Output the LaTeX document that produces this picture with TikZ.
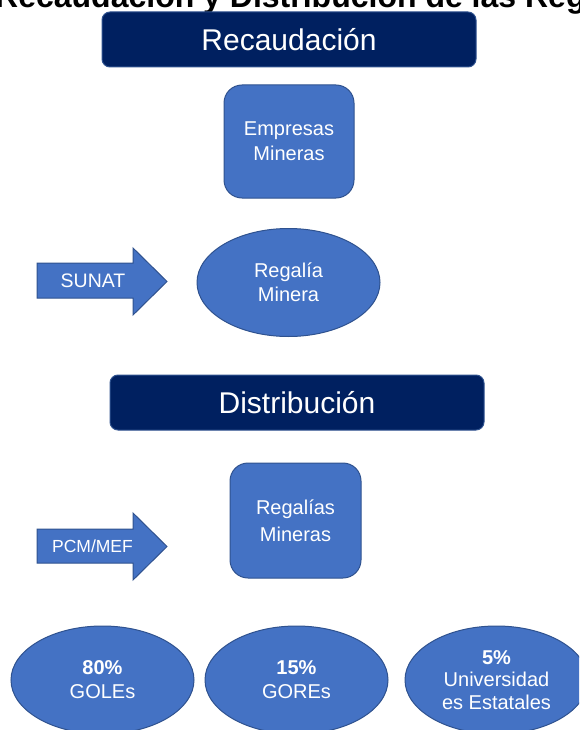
\documentclass[tikz,border=0pt]{standalone}
\usepackage{fontspec}
\setmainfont{Liberation Sans}
\usetikzlibrary{shapes.geometric}
\definecolor{accblue}{HTML}{4472C4}
\definecolor{accline}{HTML}{2F528F}
\definecolor{navy}{HTML}{002060}
\tikzset{
  headbox/.style={draw=accline, line width=1pt, fill=navy, rounded corners=8pt,
    minimum width=374pt, minimum height=55pt, inner sep=0pt, outer sep=0pt,
    text=white, font=\fontsize{30}{36}\selectfont},
  bluebox/.style={draw=accline, line width=1pt, fill=accblue, rounded corners=18pt,
    inner sep=0pt, outer sep=0pt, text=white, align=center,
    font=\fontsize{20}{25}\selectfont},
  blueell/.style={ellipse, draw=accline, line width=1pt, fill=accblue,
    minimum width=183pt, minimum height=108pt, inner sep=0pt, outer sep=0pt,
    text=white, align=center, font=\fontsize{20}{24}\selectfont},
  blockarrow/.style={draw=accline, line width=1pt, fill=accblue},
  arrowtext/.style={text=white, inner sep=0pt}
}
\begin{document}
\begin{tikzpicture}[x=1pt,y=-1pt]
\useasboundingbox (0,0) rectangle (579,730);
\clip (0,0) rectangle (579,730);
% title (cut at the top)
\node[anchor=base west, inner sep=0pt, font=\fontsize{32}{38}\selectfont\bfseries] (title) at (-5,8) {Recaudación y Distribución de las Regalías Mineras};
% Recaudacion section
\node[headbox] (recaud) at (289,39.5) {Recaudación};
\node[bluebox, minimum width=130pt, minimum height=113pt] (empresas) at (289,141.5) {Empresas\\Mineras};
\path[blockarrow] (37,263) -- (133,263) -- (133,248) -- (167,281.5) -- (133,315) -- (133,298) -- (37,298) -- cycle;
\node[arrowtext, font=\fontsize{19.5}{24}\selectfont] (sunat) at (93,281) {SUNAT};
\node[blueell] (regalia) at (288.5,282.5) {Regalía\\Minera};
% Distribucion section
\node[headbox] (distrib) at (297,402.5) {Distribución};
\node[bluebox, minimum width=131pt, minimum height=115pt, font=\fontsize{20}{27}\selectfont] (regalias) at (295.5,520.5) {Regalías\\Mineras};
\path[blockarrow] (37,529) -- (133,529) -- (133,513) -- (167,546.5) -- (133,580) -- (133,563) -- (37,563) -- cycle;
\node[arrowtext, font=\fontsize{17.5}{22}\selectfont] (pcm) at (92.5,546) {PCM/MEF};
% shares
\node[blueell] (goles) at (102.5,680) {\textbf{80\%}\\GOLEs};
\node[blueell] (gores) at (296.5,680) {\textbf{15\%}\\GOREs};
\node[blueell, font=\fontsize{20}{22.5}\selectfont] (univ) at (496.5,680) {\textbf{5\%}\\Universidad\\es Estatales};
\end{tikzpicture}
\end{document}
